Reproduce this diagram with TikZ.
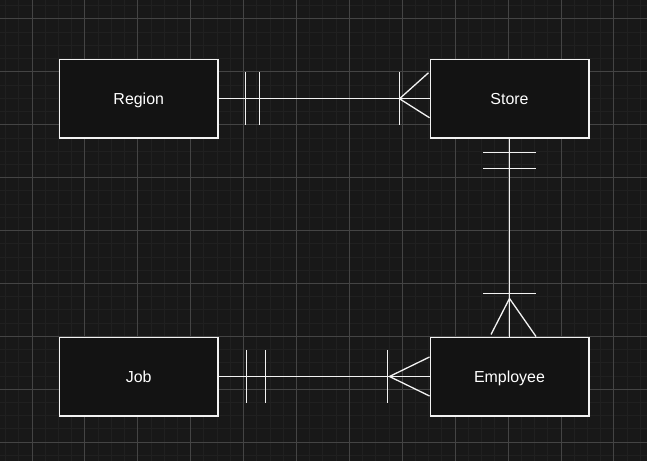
\documentclass[tikz,border=0pt]{standalone}
\usepackage{fontspec}
\setmainfont{Liberation Sans}
\usetikzlibrary{calc}
\definecolor{bgc}{HTML}{181818}
\definecolor{minorc}{HTML}{202020}
\definecolor{majorc}{HTML}{444444}
\definecolor{boxfill}{HTML}{131313}
\definecolor{edgec}{HTML}{F2F2F2}
\tikzset{
  entity/.style={draw=edgec, line width=1.5bp, fill=boxfill, minimum width=158.5bp, minimum height=78.5bp, inner sep=0pt, text=white, text height=11.4bp, text depth=0pt, font=\fontsize{16}{18}\selectfont},
  rel/.style={draw=edgec, line width=1.3bp},
  minorline/.style={draw=minorc, line width=1bp},
  majorline/.style={draw=majorc, line width=1bp}
}
\begin{document}
\begin{tikzpicture}[x=1bp, y=-1bp]
\fill[bgc] (0,0) rectangle (647,461);
\useasboundingbox (0,0) rectangle (647,461);
% minor grid
\foreach \k in {0,...,48}{\pgfmathsetmacro{\xx}{5.55+13.225*\k}\draw[minorline] (\xx,0) -- (\xx,461);}
\foreach \k in {0,...,34}{\pgfmathsetmacro{\yy}{5.775+13.225*\k}\draw[minorline] (0,\yy) -- (647,\yy);}
% major grid
\foreach \k in {0,...,11}{\pgfmathsetmacro{\xx}{32+52.9*\k}\draw[majorline] (\xx,0) -- (\xx,461);}
\foreach \k in {0,...,8}{\pgfmathsetmacro{\yy}{19+52.9*\k}\draw[majorline] (0,\yy) -- (647,\yy);}
% entities
\node[entity] (region) at (138.75,98.75) {Region};
\node[entity] (store) at (509.5,98.75) {Store};
\node[entity] (job) at (138.75,376.5) {Job};
\node[entity] (employee) at (509.5,376.5) {Employee};
% Region -- Store
\draw[rel] (region.east) -- (store.west);
\draw[rel] ($(region.east)+(27,-26.5)$) -- ($(region.east)+(27,26.5)$);
\draw[rel] ($(region.east)+(41,-26.5)$) -- ($(region.east)+(41,26.5)$);
\draw[rel] ($(store.west)+(-30,-26.5)$) -- ($(store.west)+(-30,26.5)$);
\coordinate (sa) at ($(store.west)+(-30,0)$);
\draw[rel] ($(store.west)+(-1,-26)$) -- (sa) -- ($(store.west)+(0,19)$);
% Store -- Employee
\draw[rel] (store.south) -- (employee.north);
\draw[rel] ($(store.south)+(-26.5,14)$) -- ($(store.south)+(26.5,14)$);
\draw[rel] ($(store.south)+(-26.5,30)$) -- ($(store.south)+(26.5,30)$);
\draw[rel] ($(employee.north)+(-26.5,-43)$) -- ($(employee.north)+(26.5,-43)$);
\coordinate (ea) at ($(employee.north)+(0,-38)$);
\draw[rel] ($(employee.north)+(-18.5,-2)$) -- (ea) -- ($(employee.north)+(26.5,0)$);
% Job -- Employee
\draw[rel] (job.east) -- (employee.west);
\draw[rel] ($(job.east)+(28,-26.5)$) -- ($(job.east)+(28,26.5)$);
\draw[rel] ($(job.east)+(46.5,-26.5)$) -- ($(job.east)+(46.5,26.5)$);
\draw[rel] ($(employee.west)+(-42,-26.5)$) -- ($(employee.west)+(-42,26.5)$);
\coordinate (ja) at ($(employee.west)+(-40,0)$);
\draw[rel] ($(employee.west)+(0,-19.5)$) -- (ja) -- ($(employee.west)+(0,19.5)$);
\end{tikzpicture}
\end{document}
